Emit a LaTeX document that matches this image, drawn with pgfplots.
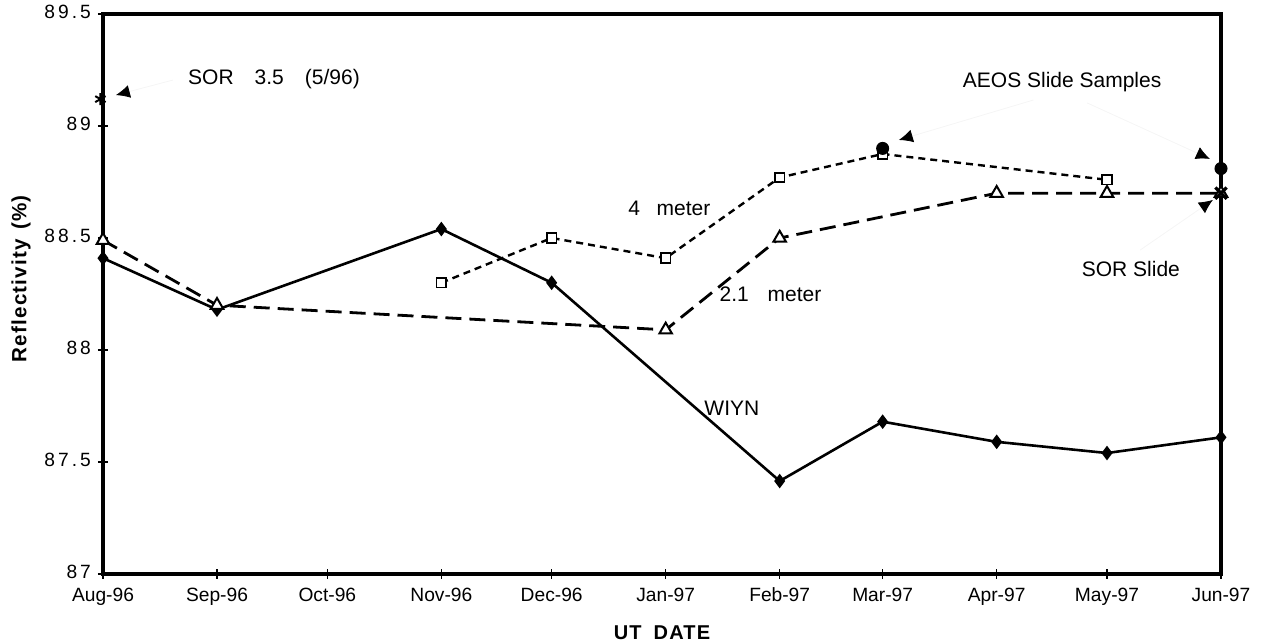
\documentclass[border=0pt]{standalone}
\usepackage{fontspec}
\setmainfont{Liberation Sans}
\newfontfamily\spaced[LetterSpace=16]{Liberation Sans}
\newfontfamily\boldspaced[LetterSpace=6]{Liberation Sans Bold}
\usepackage{pgfplots}
\pgfplotsset{compat=1.18}
\usetikzlibrary{arrows.meta}

% x in days since 1 Aug 1996
\begin{document}
\begin{tikzpicture}
\begin{axis}[
    scale only axis,
    width=559pt, height=280pt,
    xmin=0, xmax=304,
    ymin=87, ymax=89.5,
    separate axis lines,
    axis line style={line width=2pt, line cap=rect},
    xtick={0,31,61,92,122,153,184,212,243,273,304},
    xticklabels={Aug-96,Sep-96,Oct-96,Nov-96,Dec-96,Jan-97,Feb-97,Mar-97,Apr-97,May-97,Jun-97},
    ytick={87,87.5,88,88.5,89,89.5},
    yticklabels={87,87.5,88,88.5,89,89.5},
    xtick pos=left, ytick pos=left,
    tick align=center,
    major tick length=5pt,
    tick style={black, line width=0.6pt},
    typeset ticklabels with strut,
    x tick label style={font=\fontsize{9.6}{11}\selectfont},
    y tick label style={font=\fontsize{9.6}{11}\spaced},
    xlabel={\boldspaced UT\hspace{0.6em}DATE},
    ylabel={\boldspaced Reflectivity\hspace{0.45em}(\%)},
    xlabel style={font=\fontsize{10}{12}\selectfont, yshift=-2pt},
    ylabel style={font=\fontsize{10.3}{12}\selectfont, at={(ticklabel cs:0.527)}},
    clip=false,
]
% WIYN
\addplot[black, line width=1.3pt, mark=diamond*, mark size=2.6pt, mark options={solid}]
    coordinates {(0,88.41)(31,88.18)(92,88.54)(122,88.30)(184,87.415)(212,87.68)(243,87.59)(273,87.54)(304,87.61)};
% 2.1 meter
\addplot[black, line width=1.4pt, dash pattern=on 8pt off 4pt, mark=triangle*, mark size=3.6pt,
    mark options={solid, fill=white, line width=1pt}]
    coordinates {(0,88.49)(31,88.20)(153,88.09)(184,88.50)(243,88.70)(273,88.70)(304,88.70)};
% 4 meter
\addplot[black, line width=1.2pt, dash pattern=on 3.5pt off 2.5pt, mark=square*, mark size=2.4pt,
    mark options={solid, fill=white, line width=0.9pt}]
    coordinates {(92,88.30)(122,88.50)(153,88.41)(184,88.77)(212,88.875)(273,88.76)};
% AEOS slide samples
\addplot[only marks, black, mark=*, mark size=3pt, mark options={line width=0.5pt}]
    coordinates {(212,88.90)(304,88.81)};
% SOR slide
\addplot[only marks, black, mark=x, mark size=4pt, mark options={line width=1.6pt}]
    coordinates {(304,88.70)};
% SOR 3.5 (5/96)
\addplot[only marks, black, mark=asterisk, mark size=3pt, mark options={line width=1pt}]
    coordinates {(-0.7,89.12)};

\draw[gray!8, line width=0.4pt, -{Latex[black, length=7pt, width=6.5pt]}] (axis cs:19,89.205) -- (axis cs:3.5,89.138);
\draw[gray!8, line width=0.4pt, -{Latex[black, length=7pt, width=6.5pt]}] (axis cs:253,89.116) -- (axis cs:216.4,88.9375);
\draw[gray!8, line width=0.4pt, -{Latex[black, length=7pt, width=6.5pt]}] (axis cs:267.6,89.103) -- (axis cs:301,88.853);
\draw[gray!8, line width=0.4pt, -{Latex[black, length=7pt, width=6.5pt]}] (axis cs:282,88.446) -- (axis cs:301.8,88.67);

\node[font=\fontsize{10.5}{12}\selectfont] at (axis cs:46.5,89.21) {SOR\hspace{1em}3.5\hspace{1em}(5/96)};
\node[font=\fontsize{10.5}{12}\selectfont] at (axis cs:260.8,89.196) {AEOS Slide Samples};
\node[font=\fontsize{10.5}{12}\selectfont] at (axis cs:279.5,88.36) {SOR Slide};
\node[font=\fontsize{10.5}{12}\selectfont] at (axis cs:154,88.634) {4\hspace{0.8em}meter};
\node[font=\fontsize{10.5}{12}\selectfont] at (axis cs:181.5,88.25) {2.1\hspace{0.9em}meter};
\node[font=\fontsize{10.5}{12}\selectfont] at (axis cs:171,87.74) {WIYN};
\end{axis}
\pgfresetboundingbox
\path ([shift={(-51.5pt,-34.5pt)}]current axis.south west) rectangle ([shift={(22.5pt,7pt)}]current axis.north east);
\end{tikzpicture}
\end{document}
